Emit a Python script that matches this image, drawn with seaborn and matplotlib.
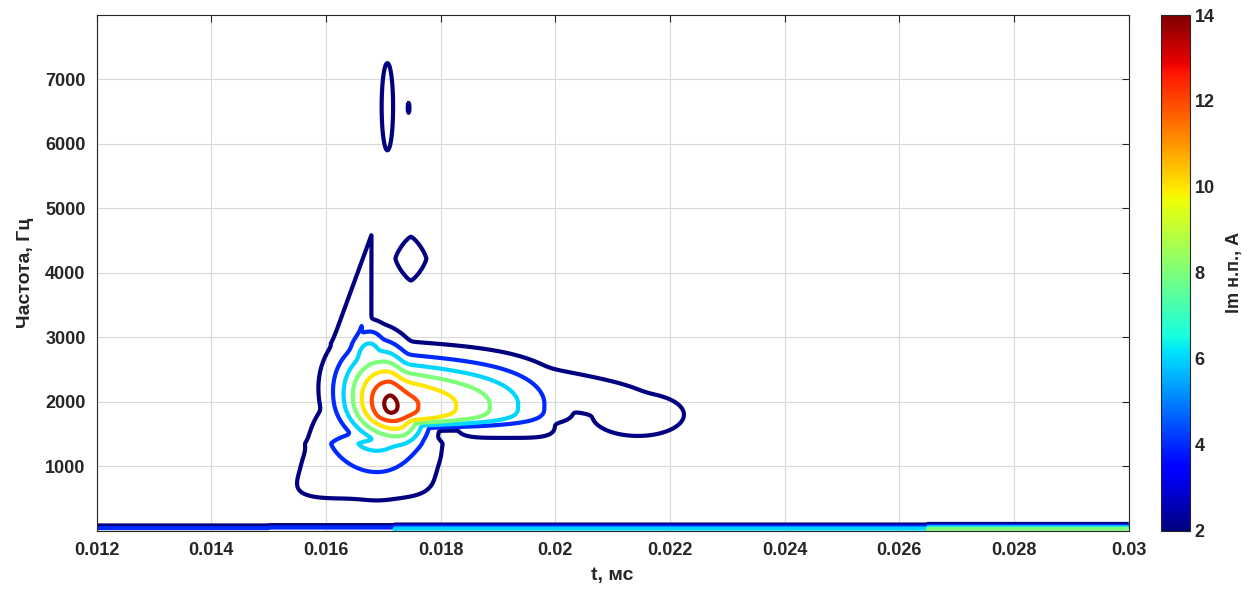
import numpy as np
import matplotlib
matplotlib.use("Agg")
import matplotlib.pyplot as plt
from matplotlib.colors import Normalize
from matplotlib.cm import ScalarMappable
import seaborn as sns

# ---- axis / legend data ----
x_ticks = [0.012, 0.014, 0.016, 0.018, 0.020, 0.022, 0.024, 0.026, 0.028, 0.030]
x_tick_labels = ["0.012", "0.014", "0.016", "0.018", "0.02", "0.022", "0.024", "0.026", "0.028", "0.03"]
y_ticks = [1000, 2000, 3000, 4000, 5000, 6000, 7000]
y_tick_labels = ["1000", "2000", "3000", "4000", "5000", "6000", "7000"]
levels = [2, 4, 6, 8, 10, 12, 14]
cbar_ticks = [2, 4, 6, 8, 10, 12, 14]

# ---- spectral components ----
comp_name = ["core", "ridge", "lobe", "shoulder", "spike", "tail_top", "tail_end", "tail_low", "base", "flank", "diamond", "ellipse", "dot"]
comp_t    = [0.01714, 0.01714, 0.01689, 0.01676, 0.01659, 0.01954, 0.02144, 0.01914, 0.01674, 0.01590, 0.01748, 0.01707, 0.01744]
comp_f    = [1962,    1960,    1350,    2700,    2900,    2275,    1800,    1700,    950,     1500,    4220,    6577,    6560]
comp_amp  = [13.7,    13.5,    6.5,     7.0,     4.6,     3.0,     3.0,     3.0,     3.0,     3.0,     3.0,     2.6,     2.2]
comp_wl   = [0.0009,  0.0006,  0.00115, 0.00045, 0.00059, 0.00263, 0.00126, 0.00107, 0.0015,  0.0003,  0.00054, 0.000195, 0.00005]
comp_wr   = [0.0006,  0.0040,  0.00105, 0.0004,  0.00024, 0.00263, 0.00126, 0.00107, 0.0015,  0.0003,  0.00054, 0.000195, 0.00005]
comp_wc   = [np.inf,  0.0031,  np.inf,  np.inf,  np.inf,  np.inf,  np.inf,  np.inf,  np.inf,  np.inf,  np.inf,  np.inf,   np.inf]
comp_wd   = [680,     360,     765,     500,     600,     376,     518,     326,     564,     700,     680,     1320,    250]
comp_wu   = [900,     720,     350,     520,     2030,    376,     518,     326,     564,     700,     680,     1320,    250]
comp_ptl  = [2.0,     2.0,     2.0,     2.0,     1.0,     4.0,     2.0,     4.0,     4.0,     2.0,     1.3,     2.0,     2.0]
comp_ptr  = [2.0,     1.0,     2.0,     2.0,     1.0,     4.0,     2.0,     4.0,     4.0,     2.0,     1.3,     2.0,     2.0]
comp_pfd  = [2.0,     4.0,     1.3,     2.0,     1.0,     4.0,     2.0,     4.0,     4.0,     2.0,     1.3,     2.0,     2.0]
comp_pfu  = [2.0,     2.0,     1.3,     2.0,     1.0,     4.0,     2.0,     4.0,     4.0,     2.0,     1.3,     2.0,     2.0]
comp_st   = [-2.0e-7, 0.0,     0.0,     0.0,     1.2e-7,  0.0,     0.0,     0.0,     3.0e-7,  3.28e-7, 0.0,     0.0,     0.0]
comp_sf   = [0.0,     0.0,     0.0,     0.0,     0.0,     -165000, 0.0,     0.0,     0.0,     0.0,     0.0,     0.0,     0.0]

# DC (0 Hz) row amplitudes along time
dc_edges = [0.012, 0.0150, 0.0172, 0.0265, 0.030]
dc_level = [5.0, 5.6, 7.0, 9.0]
dc_width = 85.0

# ---- build the field ----
t = np.linspace(0.012, 0.030, 1801)
f = np.linspace(0, 8000, 801)
T, F = np.meshgrid(t, f)

parts = []
for i in range(len(comp_name)):
    dt = T - comp_t[i] - comp_st[i] * (F - comp_f[i])
    df = F - comp_f[i] - comp_sf[i] * (T - comp_t[i])
    left = dt < 0
    below = df < 0
    wt = np.where(left, comp_wl[i], comp_wr[i])
    pt = np.where(left, comp_ptl[i], comp_ptr[i])
    cut = np.where(left, 0.0, (np.abs(dt) / comp_wc[i]) ** 4)
    wf = np.where(below, comp_wd[i], comp_wu[i])
    pf = np.where(below, comp_pfd[i], comp_pfu[i])
    expo = (np.abs(dt) / wt) ** pt + cut + (np.abs(df) / wf) ** pf
    parts.append(comp_amp[i] * np.exp(-expo))

idx = np.clip(np.searchsorted(dc_edges, t, side="right") - 1, 0, len(dc_level) - 1)
dc_row = np.array(dc_level)[idx]
parts.append(dc_row[None, :] * np.exp(-(F / dc_width) ** 2))

q = 12.0
Z = np.sum([p ** q for p in parts], axis=0) ** (1.0 / q)

# ---- plot ----
sns.set_theme(style="white")
plt.rcParams["font.family"] = ["Liberation Sans", "DejaVu Sans"]
plt.rcParams["font.weight"] = "bold"

fig = plt.figure(figsize=(12.58, 5.93), dpi=100)
ax = fig.add_axes([96.7 / 1258, 1 - 530.7 / 593, 1032 / 1258, 515.7 / 593])

norm = Normalize(vmin=2, vmax=14)
ax.contour(T, F, Z, levels=levels, cmap="jet", norm=norm, linewidths=3.0)

ax.set_xlim(0.012, 0.030)
ax.set_ylim(0, 8000)
ax.set_xticks(x_ticks)
ax.set_xticklabels(x_tick_labels, fontsize=13, fontweight="bold")
ax.set_yticks(y_ticks)
ax.set_yticklabels(y_tick_labels, fontsize=13, fontweight="bold")
ax.grid(True, color="#d9d9d9", linewidth=0.8)
ax.set_axisbelow(True)
ax.tick_params(direction="in", length=5, width=0.8, top=True, right=True, colors="#262626", pad=8)
for s in ax.spines.values():
    s.set_color("#262626")
    s.set_linewidth(0.8)
ax.set_xlabel("t, мс", fontsize=14, fontweight="bold", labelpad=6)
ax.set_ylabel("Частота, Гц", fontsize=14, fontweight="bold", labelpad=8)

cax = fig.add_axes([1161 / 1258, 1 - 530.7 / 593, 29 / 1258, 515.7 / 593])
sm = ScalarMappable(norm=norm, cmap="jet")
cb = fig.colorbar(sm, cax=cax, ticks=cbar_ticks)
cb.ax.tick_params(labelsize=13, direction="in", length=5, width=0.8)
for lab in cb.ax.get_yticklabels():
    lab.set_fontweight("bold")
cb.outline.set_linewidth(0.8)
cb.set_label("Im н.п., А", fontsize=13, fontweight="bold", labelpad=8)

fig.savefig("out.png", dpi=100)
